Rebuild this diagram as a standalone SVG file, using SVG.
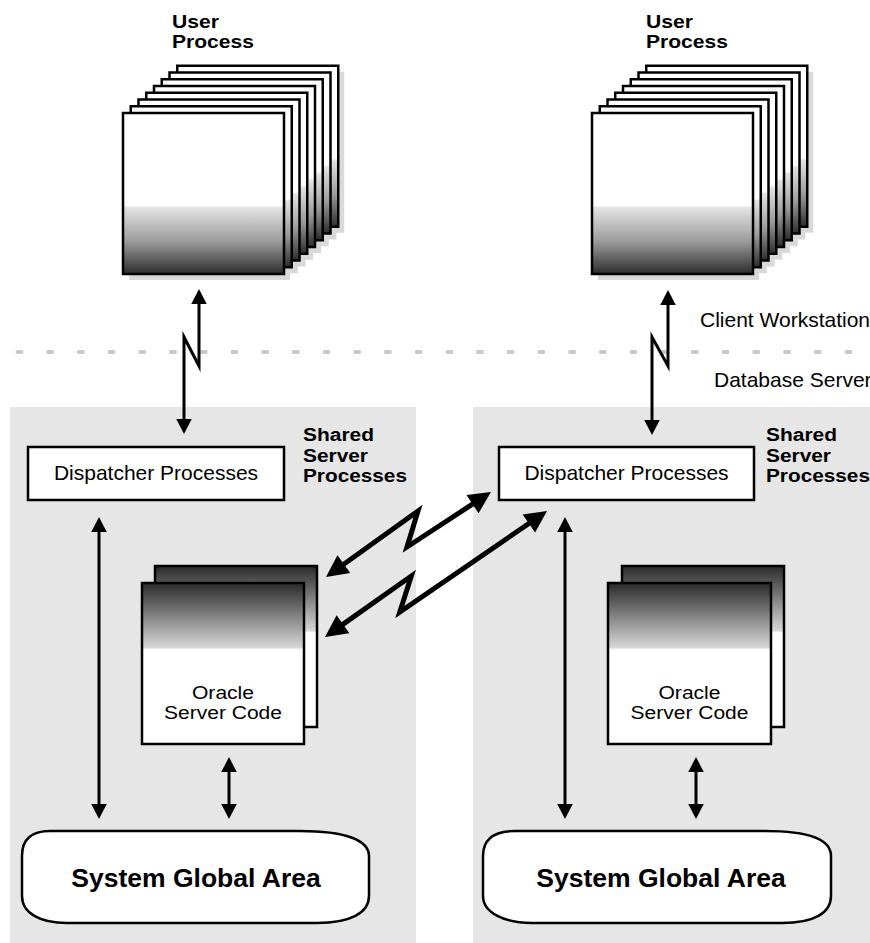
<svg xmlns="http://www.w3.org/2000/svg" xmlns:xlink="http://www.w3.org/1999/xlink" width="870" height="943" viewBox="0 0 870 943">
<style>
  .panel { fill: #e6e6e6; }
  .box { fill: #ffffff; stroke: #000; stroke-width: 2.5; }
  .up { fill: url(#gUser); stroke: #000; stroke-width: 2.5; }
  .upsh { fill: #d9d9d9; }
  .code { fill: url(#gCode); stroke: #000; stroke-width: 2.5; }
  .t { font-family: "Liberation Sans", Arial, Helvetica, sans-serif; font-size: 21px; fill: #000; }
  .m { font-size: 17.5px; }
  .b { font-weight: bold; }
  .c { text-anchor: middle; }
  .sga { font-size: 26.5px; }
  .thin { fill: none; stroke: #000; stroke-width: 3; stroke-linejoin: miter; stroke-miterlimit: 10; marker-start: url(#ah); marker-end: url(#ah); }
  .thick { fill: none; stroke: #000; stroke-width: 5; stroke-linejoin: miter; stroke-miterlimit: 10; marker-start: url(#ahB); marker-end: url(#ahB); }
  .dash { fill: none; stroke: #c8c8c8; stroke-width: 4; stroke-linecap: round; stroke-dasharray: 4 26.7; }
</style>
<defs>
  <linearGradient id="gUser" x1="0" y1="0" x2="0" y2="1">
    <stop offset="0" stop-color="#ffffff"/>
    <stop offset="0.575" stop-color="#ffffff"/>
    <stop offset="0.585" stop-color="#e4e4e4"/>
    <stop offset="0.8" stop-color="#9a9a9a"/>
    <stop offset="1" stop-color="#2c2c2c"/>
  </linearGradient>
  <linearGradient id="gCode" x1="0" y1="0" x2="0" y2="1">
    <stop offset="0" stop-color="#2a2a2a"/>
    <stop offset="0.2" stop-color="#808080"/>
    <stop offset="0.4" stop-color="#d6d6d6"/>
    <stop offset="0.415" stop-color="#ffffff"/>
    <stop offset="1" stop-color="#ffffff"/>
  </linearGradient>
  <rect id="upRect" class="up" width="161" height="161"/>
  <rect id="upShadow" class="upsh" width="161" height="161"/>
  <marker id="ah" markerUnits="userSpaceOnUse" markerWidth="16" markerHeight="16" refX="3" refY="7.75" orient="auto-start-reverse" overflow="visible">
    <path d="M0,0 L15,7.75 L0,15.5 Z" fill="#000"/>
  </marker>
  <marker id="ahB" markerUnits="userSpaceOnUse" markerWidth="23" markerHeight="23" refX="4" refY="11" orient="auto-start-reverse" overflow="visible">
    <path d="M0,0 L22,11 L0,22 Z" fill="#000"/>
  </marker>
</defs>

<rect width="870" height="943" fill="#ffffff"/>

<g id="zones">
  <rect id="panel-left" class="panel" x="10" y="407" width="406" height="536"/>
  <rect id="panel-right" class="panel" x="473" y="407" width="397" height="536"/>
  <path id="network-boundary" class="dash" d="M17.5,352 L872,352"/>
  <text class="t" x="700" y="327">Client Workstation</text>
  <text class="t" x="714" y="387">Database Server</text>
</g>

<g id="user-process-left">
  <text class="t m b" x="172" y="28" textLength="47" lengthAdjust="spacingAndGlyphs">User</text>
  <text class="t m b" x="172" y="48" textLength="82" lengthAdjust="spacingAndGlyphs">Process</text>
  <use xlink:href="#upShadow" x="183.25" y="71.75"/>
  <use xlink:href="#upShadow" x="175.5" y="78.5"/>
  <use xlink:href="#upShadow" x="167.75" y="85.25"/>
  <use xlink:href="#upShadow" x="160" y="92"/>
  <use xlink:href="#upShadow" x="152.25" y="98.75"/>
  <use xlink:href="#upShadow" x="144.5" y="105.5"/>
  <use xlink:href="#upShadow" x="136.75" y="112.25"/>
  <use xlink:href="#upShadow" x="129" y="119"/>
  <use xlink:href="#upRect" x="177.25" y="65.75"/>
  <use xlink:href="#upRect" x="169.5" y="72.5"/>
  <use xlink:href="#upRect" x="161.75" y="79.25"/>
  <use xlink:href="#upRect" x="154" y="86"/>
  <use xlink:href="#upRect" x="146.25" y="92.75"/>
  <use xlink:href="#upRect" x="138.5" y="99.5"/>
  <use xlink:href="#upRect" x="130.75" y="106.25"/>
  <use xlink:href="#upRect" x="123" y="113"/>
</g>

<g id="user-process-right">
  <text class="t m b" x="646" y="28" textLength="47" lengthAdjust="spacingAndGlyphs">User</text>
  <text class="t m b" x="646" y="48" textLength="82" lengthAdjust="spacingAndGlyphs">Process</text>
  <use xlink:href="#upShadow" x="652.25" y="71.75"/>
  <use xlink:href="#upShadow" x="644.5" y="78.5"/>
  <use xlink:href="#upShadow" x="636.75" y="85.25"/>
  <use xlink:href="#upShadow" x="629" y="92"/>
  <use xlink:href="#upShadow" x="621.25" y="98.75"/>
  <use xlink:href="#upShadow" x="613.5" y="105.5"/>
  <use xlink:href="#upShadow" x="605.75" y="112.25"/>
  <use xlink:href="#upShadow" x="598" y="119"/>
  <use xlink:href="#upRect" x="646.25" y="65.75"/>
  <use xlink:href="#upRect" x="638.5" y="72.5"/>
  <use xlink:href="#upRect" x="630.75" y="79.25"/>
  <use xlink:href="#upRect" x="623" y="86"/>
  <use xlink:href="#upRect" x="615.25" y="92.75"/>
  <use xlink:href="#upRect" x="607.5" y="99.5"/>
  <use xlink:href="#upRect" x="599.75" y="106.25"/>
  <use xlink:href="#upRect" x="592" y="113"/>
</g>

<g id="dispatcher-left">
  <rect class="box" x="28" y="447" width="256" height="53"/>
  <text class="t c" x="156" y="480">Dispatcher Processes</text>
</g>
<g id="shared-label-left">
  <text class="t m b" x="303" y="441" textLength="71" lengthAdjust="spacingAndGlyphs">Shared</text>
  <text class="t m b" x="303" y="461.5" textLength="65" lengthAdjust="spacingAndGlyphs">Server</text>
  <text class="t m b" x="303" y="482" textLength="104" lengthAdjust="spacingAndGlyphs">Processes</text>
</g>

<g id="dispatcher-right">
  <rect class="box" x="499" y="447" width="255" height="53"/>
  <text class="t c" x="626.5" y="480">Dispatcher Processes</text>
</g>
<g id="shared-label-right">
  <text class="t m b" x="766" y="441" textLength="71" lengthAdjust="spacingAndGlyphs">Shared</text>
  <text class="t m b" x="766" y="461.5" textLength="65" lengthAdjust="spacingAndGlyphs">Server</text>
  <text class="t m b" x="766" y="482" textLength="104" lengthAdjust="spacingAndGlyphs">Processes</text>
</g>

<g id="server-code-left">
  <rect class="code" x="155" y="566" width="162" height="161"/>
  <rect class="code" x="142" y="583" width="162" height="161"/>
  <text class="t m c" x="223" y="699" textLength="62" lengthAdjust="spacingAndGlyphs">Oracle</text>
  <text class="t m c" x="223" y="719" textLength="118" lengthAdjust="spacingAndGlyphs">Server Code</text>
</g>

<g id="server-code-right">
  <rect class="code" x="622" y="566" width="162" height="161"/>
  <rect class="code" x="608" y="583" width="163" height="161"/>
  <text class="t m c" x="689.5" y="699" textLength="62" lengthAdjust="spacingAndGlyphs">Oracle</text>
  <text class="t m c" x="689.5" y="719" textLength="118" lengthAdjust="spacingAndGlyphs">Server Code</text>
</g>

<g id="sga-left">
  <path class="box" d="M50,831 L300,831 C345,831 369,840 369,856 L369,896 C369,913 350,923 317,923 L67,923 C40,923 22,913 22,896 L22,856 C22,840 30,831 50,831 Z"/>
  <text class="t b c sga" x="196" y="887">System Global Area</text>
</g>

<g id="sga-right">
  <path class="box" d="M515,831 L765,831 C810,831 831,840 831,856 L831,896 C831,913 814,923 782,923 L532,923 C505,923 483,913 483,896 L483,856 C483,840 493,831 515,831 Z"/>
  <text class="t b c sga" x="661" y="887">System Global Area</text>
</g>

<g id="connectors">
  <path class="thin" d="M199,301 L199,366 L184,337 L184,422"/>
  <path class="thin" d="M668,302 L668,366 L652,337 L652,423"/>
  <path class="thin" d="M99,529 L99,807"/>
  <path class="thin" d="M229,769 L229,807"/>
  <path class="thin" d="M565,529 L565,807"/>
  <path class="thin" d="M696,769 L696,807"/>
  <path class="thick" d="M340.6,566.5 L418,511 L407,547 L475.9,501.9"/>
  <path class="thick" d="M339.7,626.6 L411.3,576 L399.8,612 L532.2,521.2"/>
</g>
</svg>
